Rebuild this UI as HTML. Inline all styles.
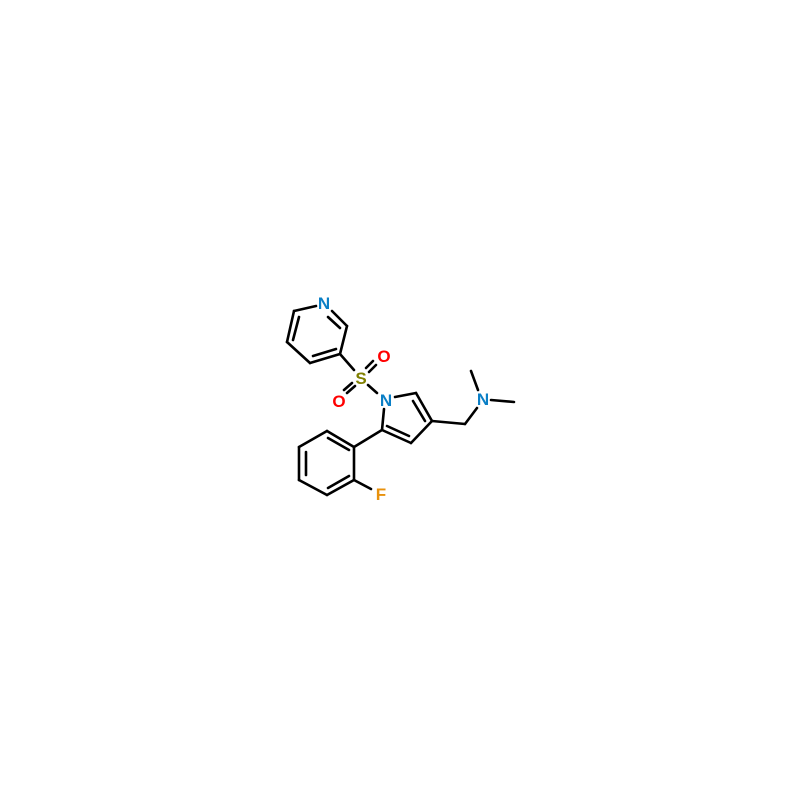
<!DOCTYPE html>
<html><head><style>body{margin:0;background:#fff}</style></head><body>
<svg width="800" height="800" xmlns="http://www.w3.org/2000/svg" style="display:block">
<rect width="800" height="800" fill="#fff"/>
<g stroke="#000" stroke-width="2.6" stroke-linecap="round" fill="none">
<!-- pyridine -->
<line x1="316" y1="306" x2="294" y2="311"/>
<line x1="294" y1="311" x2="287" y2="342"/>
<line x1="299" y1="317" x2="293" y2="340"/>
<line x1="287" y1="342" x2="310" y2="363"/>
<line x1="310" y1="363" x2="340" y2="354"/>
<line x1="313" y1="356" x2="336" y2="349"/>
<line x1="340" y1="354" x2="347" y2="326"/>
<line x1="347" y1="326" x2="332" y2="311"/>
<line x1="340" y1="328" x2="328" y2="317"/>
<!-- sulfonyl -->
<line x1="340" y1="354" x2="354" y2="370"/>
<line x1="369" y1="372" x2="376" y2="365"/>
<line x1="366" y1="368" x2="373" y2="361"/>
<line x1="355" y1="386" x2="347" y2="393"/>
<line x1="352" y1="383" x2="344" y2="390"/>
<line x1="368" y1="385" x2="377" y2="393"/>
<!-- pyrrole -->
<line x1="395" y1="397" x2="416" y2="393"/>
<line x1="416" y1="393" x2="432" y2="421"/>
<line x1="413" y1="401" x2="425" y2="421"/>
<line x1="432" y1="421" x2="411" y2="443"/>
<line x1="411" y1="443" x2="382" y2="430"/>
<line x1="409" y1="436" x2="387" y2="426"/>
<line x1="382" y1="430" x2="384" y2="409"/>
<!-- CH2 NMe2 -->
<line x1="432" y1="421" x2="465" y2="424"/>
<line x1="465" y1="424" x2="477" y2="408"/>
<line x1="478" y1="390" x2="471" y2="371"/>
<line x1="491" y1="400" x2="514" y2="402"/>
<!-- phenyl -->
<line x1="382" y1="430" x2="354" y2="447"/>
<line x1="327" y1="431" x2="354" y2="447"/>
<line x1="328" y1="438" x2="349" y2="450"/>
<line x1="354" y1="447" x2="354" y2="480"/>
<line x1="354" y1="480" x2="327" y2="495"/>
<line x1="349" y1="476" x2="328" y2="488"/>
<line x1="327" y1="495" x2="299" y2="480"/>
<line x1="299" y1="480" x2="299" y2="447"/>
<line x1="306" y1="475" x2="306" y2="452"/>
<line x1="299" y1="447" x2="327" y2="431"/>
<line x1="354" y1="480" x2="371" y2="489"/>
</g>
<g font-family="Liberation Sans, sans-serif" font-size="17" font-weight="bold" text-anchor="middle">
<text x="324" y="309" fill="#0a7fc6">N</text>
<text x="361" y="384" fill="#808000">S</text>
<text x="384" y="362" fill="#f00">O</text>
<text x="339" y="407" fill="#f00">O</text>
<text x="386" y="406" fill="#0a7fc6">N</text>
<text x="483" y="405" fill="#0a7fc6">N</text>
<text x="381" y="500" fill="#e8910c">F</text>
</g>
</svg>
</body></html>
